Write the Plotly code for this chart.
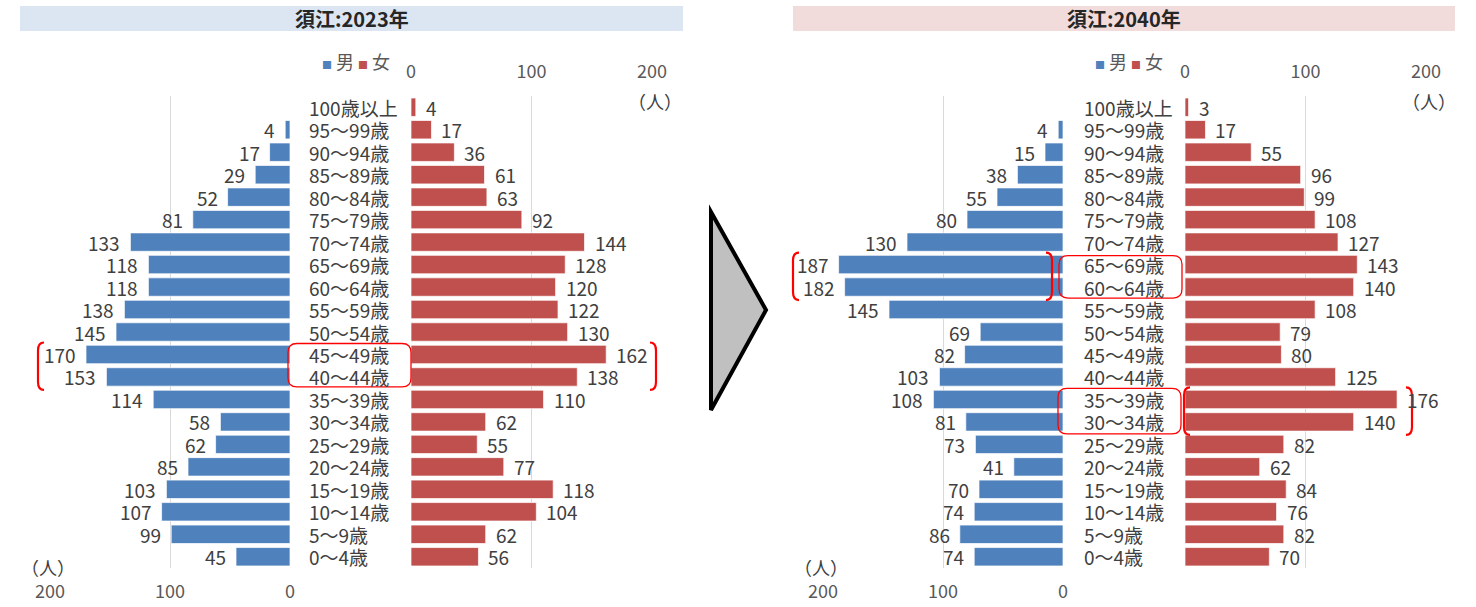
import plotly.graph_objects as go

# Age groups, top to bottom
ages = ["100歳以上", "95～99歳", "90～94歳", "85～89歳", "80～84歳", "75～79歳",
        "70～74歳", "65～69歳", "60～64歳", "55～59歳", "50～54歳", "45～49歳",
        "40～44歳", "35～39歳", "30～34歳", "25～29歳", "20～24歳", "15～19歳",
        "10～14歳", "5～9歳", "0～4歳"]

# 2023 population (persons)
male_2023 = [None, 4, 17, 29, 52, 81, 133, 118, 118, 138, 145, 170, 153, 114,
             58, 62, 85, 103, 107, 99, 45]
female_2023 = [4, 17, 36, 61, 63, 92, 144, 128, 120, 122, 130, 162, 138, 110,
               62, 55, 77, 118, 104, 62, 56]

# 2040 projection (persons)
male_2040 = [None, 4, 15, 38, 55, 80, 130, 187, 182, 145, 69, 82, 103, 108,
             81, 73, 41, 70, 74, 86, 74]
female_2040 = [3, 17, 55, 96, 99, 108, 127, 143, 140, 108, 79, 80, 125, 176,
               140, 82, 62, 84, 76, 82, 70]

titles = ["須江:2023年", "須江:2040年"]
title_bg = ["#dce6f2", "#f2dcdb"]
axis_ticks = [0, 100, 200]

W, H = 1476, 607
BLUE, RED = "#4f81bd", "#c0504d"
FONT = "Noto Sans CJK JP"
TXT = "#404040"
GRID = "#d9d9d9"

PLOT_TOP, PLOT_BOT = 96, 568
ROW_H = (PLOT_BOT - PLOT_TOP) / len(ages)


def px(x):
    return x / W


def py(y):
    return 1 - y / H


def row_y(i):
    return PLOT_TOP + (i + 0.5) * ROW_H


def note(x, y, text, size=19, color=TXT, xanchor="center", **kw):
    return dict(x=x, y=y, text=text, showarrow=False, xanchor=xanchor,
                yanchor="middle", font=dict(family=FONT, size=size, color=color), **kw)


fig = go.Figure()

# panel geometry in pixels: male axis (200 -> 0), female axis (0 -> 200)
panels = [
    dict(male=(50, 290), female=(411, 652), label_x=307, title=(20, 683)),
    dict(male=(823, 1063), female=(1185, 1426), label_x=1082, title=(793, 1455)),
]
data = [(male_2023, female_2023), (male_2040, female_2040)]

shapes = []
annotations = []
layout_axes = {}

for p, (geo, (mv, fv)) in enumerate(zip(panels, data)):
    xm = f"x{2 * p + 1}" if p else "x"
    xf = f"x{2 * p + 2}"
    yy = f"y{p + 1}" if p else "y"
    xm_name = "xaxis" if p == 0 else f"xaxis{2 * p + 1}"
    xf_name = f"xaxis{2 * p + 2}"
    y_name = "yaxis" if p == 0 else f"yaxis{p + 1}"

    fig.add_trace(go.Bar(x=mv, y=ages, orientation="h", xaxis=xm, yaxis=yy,
                         marker=dict(color=BLUE, line=dict(color="rgba(255,255,255,0.7)", width=1)),
                         showlegend=False, hoverinfo="x+y"))
    fig.add_trace(go.Bar(x=fv, y=ages, orientation="h", xaxis=xf, yaxis=yy,
                         marker=dict(color=RED, line=dict(color="rgba(255,255,255,0.7)", width=1)),
                         showlegend=False, hoverinfo="x+y"))

    common = dict(tickvals=axis_ticks, showgrid=True, gridcolor=GRID, gridwidth=1,
                  zeroline=False, showline=False, ticks="outside",
                  tickcolor="rgba(0,0,0,0)", fixedrange=True, automargin=False,
                  tickfont=dict(family=FONT, size=18, color="#595959"))
    layout_axes[xm_name] = dict(domain=[px(geo["male"][0]), px(geo["male"][1])],
                                range=[200, 0], anchor=yy, side="bottom",
                                ticklen=7, **common)
    layout_axes[xf_name] = dict(domain=[px(geo["female"][0]), px(geo["female"][1])],
                                range=[0, 200], anchor=yy, side="top",
                                ticklen=10, **common)
    layout_axes[y_name] = dict(domain=[py(PLOT_BOT), py(PLOT_TOP)], anchor=xm,
                               type="category", categoryorder="array",
                               categoryarray=ages, range=[len(ages) - 0.5, -0.5],
                               showticklabels=False, showgrid=False, zeroline=False,
                               fixedrange=True, automargin=False)

    # value labels
    for a, v in zip(ages, mv):
        if v is None:
            continue
        annotations.append(note(v, a, str(v), xanchor="right", xref=xm, yref=yy,
                                xshift=-8))
    for a, v in zip(ages, fv):
        annotations.append(note(v, a, str(v), xanchor="left", xref=xf, yref=yy,
                                xshift=8))
    # age labels
    for a in ages:
        annotations.append(note(px(geo["label_x"]), a, a, xanchor="left",
                                xref="paper", yref=yy))

    # title band
    t0, t1 = geo["title"]
    shapes.append(dict(type="rect", xref="paper", yref="paper",
                       x0=px(t0), x1=px(t1), y0=py(31), y1=py(6),
                       fillcolor=title_bg[p], line=dict(width=0), layer="below"))
    annotations.append(note(px((t0 + t1) / 2), py(18.5), f"<b>{titles[p]}</b>",
                            size=20, color="#262626", xref="paper", yref="paper"))

    # legend
    mid = (geo["male"][1] + geo["female"][0]) / 2
    annotations.append(note(px(mid + 5), py(61),
                            f'<span style="color:{BLUE};font-size:10px">■</span> 男 '
                            f'<span style="color:{RED};font-size:10px">■</span> 女',
                            size=18, color="#595959", xref="paper", yref="paper"))

    # unit labels
    annotations.append(note(px(geo["male"][0] - 2), py(567), "（人）", size=18,
                            xref="paper", yref="paper"))
    annotations.append(note(px(geo["female"][1] + 3), py(101), "（人）", size=18,
                            xref="paper", yref="paper"))


def bracket(x, y0, y1, left=True, d=6):
    s = -1 if left else 1
    xi = x - s * d
    return dict(type="path", xref="paper", yref="paper",
                path=(f"M {px(xi)},{py(y0)} Q {px(x)},{py(y0)} {px(x)},{py(y0 + 8)} "
                      f"L {px(x)},{py(y1 - 8)} Q {px(x)},{py(y1)} {px(xi)},{py(y1)}"),
                line=dict(color="#ff0000", width=2.2))


def rounded(x0, x1, y0, y1, r=9):
    path = (f"M {px(x0 + r)},{py(y0)} L {px(x1 - r)},{py(y0)} "
            f"Q {px(x1)},{py(y0)} {px(x1)},{py(y0 + r)} L {px(x1)},{py(y1 - r)} "
            f"Q {px(x1)},{py(y1)} {px(x1 - r)},{py(y1)} L {px(x0 + r)},{py(y1)} "
            f"Q {px(x0)},{py(y1)} {px(x0)},{py(y1 - r)} L {px(x0)},{py(y0 + r)} "
            f"Q {px(x0)},{py(y0)} {px(x0 + r)},{py(y0)} Z")
    return dict(type="path", xref="paper", yref="paper", path=path,
                line=dict(color="#ff0000", width=1.3))


def span(i0, i1):
    return row_y(i0) - 12, row_y(i1) + 13


# highlighted groups
ya, yb = span(ages.index("45～49歳"), ages.index("40～44歳"))
shapes += [bracket(38, ya, yb, True), bracket(656, ya, yb, False),
           rounded(288, 411, ya + 1, yb - 3)]

ya, yb = span(ages.index("65～69歳"), ages.index("60～64歳"))
shapes += [bracket(793, ya, yb, True), bracket(1052, ya, yb, False),
           rounded(1059, 1182, ya + 3, yb - 2)]

ya, yb = span(ages.index("35～39歳"), ages.index("30～34歳"))
shapes += [bracket(1184, ya, yb, True), bracket(1412, ya, yb, False),
           rounded(1058, 1181, ya + 1, yb - 1)]

# arrow between panels
shapes.append(dict(type="path", xref="paper", yref="paper",
                   path=f"M {px(711)},{py(212)} L {px(711)},{py(410)} L {px(766)},{py(310)} Z",
                   fillcolor="#c0c0c0", line=dict(color="#000000", width=4)))

fig.update_layout(width=W, height=H, margin=dict(l=0, r=0, t=0, b=0, autoexpand=False),
                  paper_bgcolor="white", plot_bgcolor="white",
                  bargap=0.18, barmode="overlay", showlegend=False,
                  shapes=shapes, annotations=annotations, **layout_axes)

fig.write_html("out.html", config={"displayModeBar": False})
